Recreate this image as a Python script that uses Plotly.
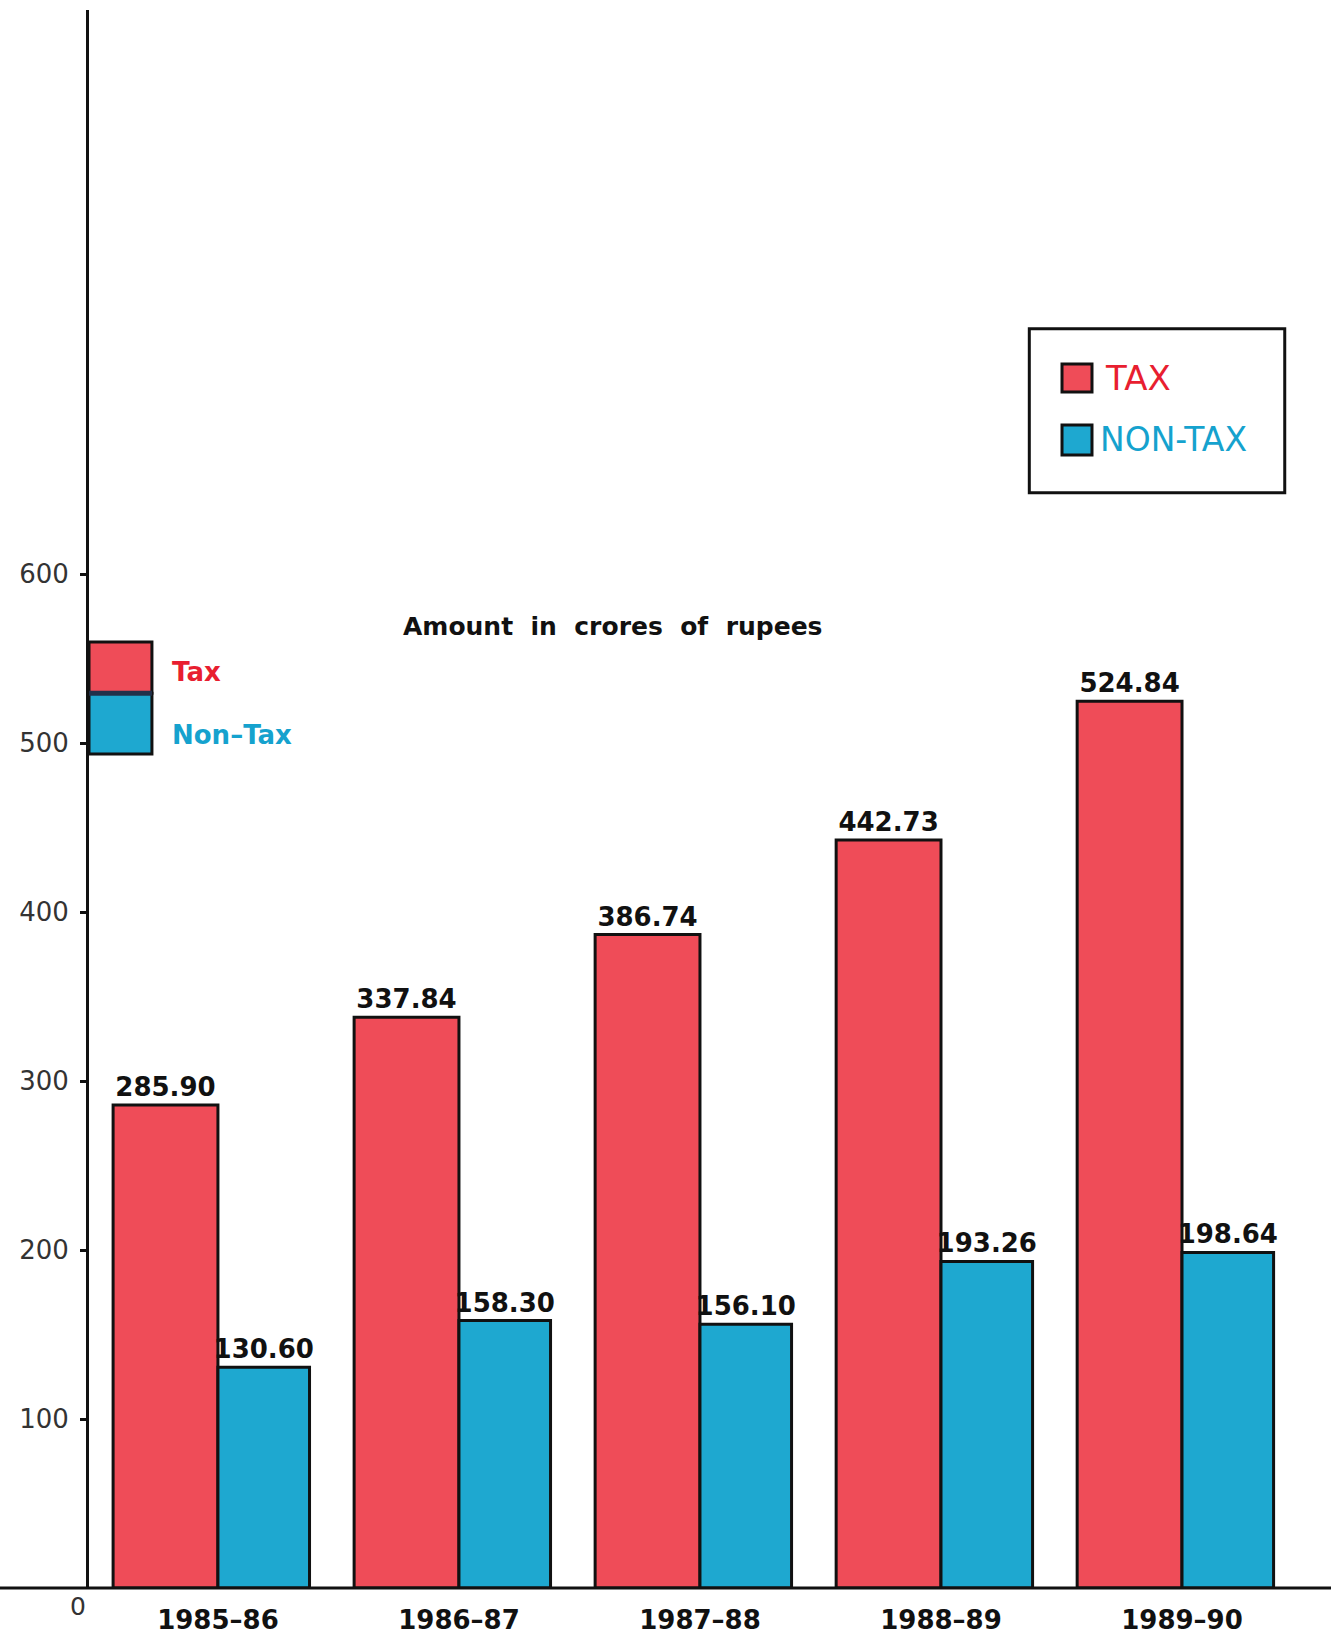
import plotly.graph_objects as go

# Revenue figures, amount in crores of rupees
years = ["1985–86", "1986–87", "1987–88", "1988–89", "1989–90"]
tax = [285.90, 337.84, 386.74, 442.73, 524.84]
non_tax = [130.60, 158.30, 156.10, 193.26, 198.64]
y_ticks = [100, 200, 300, 400, 500, 600]

TAX_FILL = "#EF4C58"
NONTAX_FILL = "#1EA8D0"
TAX_TEXT = "#E81E30"
NONTAX_TEXT = "#15A2CE"

label_font = dict(family="DejaVu Sans", size=26, color="#111111", weight="bold")

fig = go.Figure()
fig.add_trace(go.Bar(
    x=years, y=tax, name="Tax",
    width=0.435, offset=-0.435,
    marker=dict(color=TAX_FILL, line=dict(color="#111111", width=3)),
    text=[f"{v:.2f}" for v in tax], textposition="outside",
    textfont=label_font, cliponaxis=False, constraintext="none",
))
fig.add_trace(go.Bar(
    x=years, y=non_tax, name="Non-Tax",
    width=0.38, offset=0,
    marker=dict(color=NONTAX_FILL, line=dict(color="#111111", width=3)),
    text=[f"{v:.2f}" for v in non_tax], textposition="outside",
    textfont=label_font, cliponaxis=False, constraintext="none",
))

shapes = [
    # long baseline running past both ends of the plot
    dict(type="line", xref="paper", yref="paper", x0=-0.075, x1=1.01, y0=0, y1=0,
         line=dict(color="#111111", width=3)),
    # small stacked key on the left
    dict(type="rect", xref="paper", yref="paper", x0=0.0, x1=0.051, y0=0.567, y1=0.5995,
         fillcolor=TAX_FILL, line=dict(color="#111111", width=3)),
    dict(type="rect", xref="paper", yref="paper", x0=0.0, x1=0.051, y0=0.5285, y1=0.567,
         fillcolor=NONTAX_FILL, line=dict(color="#111111", width=3)),
    dict(type="line", xref="paper", yref="paper", x0=0.0, x1=0.051, y0=0.567, y1=0.567,
         line=dict(color="#22304a", width=5)),
    # boxed key on the right
    dict(type="rect", xref="paper", yref="paper", x0=0.762, x1=0.969, y0=0.694, y1=0.798,
         fillcolor="rgba(0,0,0,0)", line=dict(color="#111111", width=3)),
    dict(type="rect", xref="paper", yref="paper", x0=0.7885, x1=0.8128, y0=0.758, y1=0.7757,
         fillcolor=TAX_FILL, line=dict(color="#111111", width=3)),
    dict(type="rect", xref="paper", yref="paper", x0=0.7885, x1=0.8128, y0=0.718, y1=0.737,
         fillcolor=NONTAX_FILL, line=dict(color="#111111", width=3)),
]

annotations = [
    dict(text="Amount  in  crores  of  rupees", xref="paper", yref="paper", x=0.424, y=0.6096,
         xanchor="center", yanchor="middle", showarrow=False,
         font=dict(family="DejaVu Sans", size=25, color="#111111", weight="bold")),
    dict(text="Tax", xref="paper", yref="paper", x=0.066, y=0.5805, xanchor="left", yanchor="middle",
         showarrow=False, font=dict(family="DejaVu Sans", size=26, color=TAX_TEXT, weight="bold")),
    dict(text="Non–Tax", xref="paper", yref="paper", x=0.066, y=0.5406, xanchor="left", yanchor="middle",
         showarrow=False, font=dict(family="DejaVu Sans", size=26, color=NONTAX_TEXT, weight="bold")),
    dict(text="TAX", xref="paper", yref="paper", x=0.822, y=0.7668, xanchor="left", yanchor="middle",
         showarrow=False, font=dict(family="DejaVu Sans", size=34, color=TAX_TEXT)),
    dict(text="NON-TAX", xref="paper", yref="paper", x=0.818, y=0.728, xanchor="left", yanchor="middle",
         showarrow=False, font=dict(family="DejaVu Sans", size=33, color=NONTAX_TEXT)),
    dict(text="0", xref="paper", yref="paper", x=-0.001, y=0, xanchor="right", yanchor="top",
         yshift=-2, showarrow=False, font=dict(family="DejaVu Sans", size=25, color="#333333")),
]

fig.update_layout(
    width=1331, height=1646,
    margin=dict(l=89, r=8, t=10, b=58),
    paper_bgcolor="white", plot_bgcolor="white",
    barmode="overlay", showlegend=False,
    shapes=shapes, annotations=annotations,
    xaxis=dict(
        type="category", range=[-0.535, 4.585],
        showline=False, showgrid=False, zeroline=False, ticks="",
        tickfont=dict(family="DejaVu Sans", size=26, color="#111111", weight="bold"),
        ticklabelstandoff=14,
    ),
    yaxis=dict(
        range=[0, 934], tickvals=y_ticks, ticktext=[str(v) for v in y_ticks],
        showline=True, linecolor="#111111", linewidth=3,
        showgrid=False, zeroline=False,
        ticks="outside", ticklen=6, tickwidth=3, tickcolor="#111111",
        tickfont=dict(family="DejaVu Sans", size=26, color="#333333"),
        ticklabelstandoff=6,
    ),
)

fig.write_html("out.html")
